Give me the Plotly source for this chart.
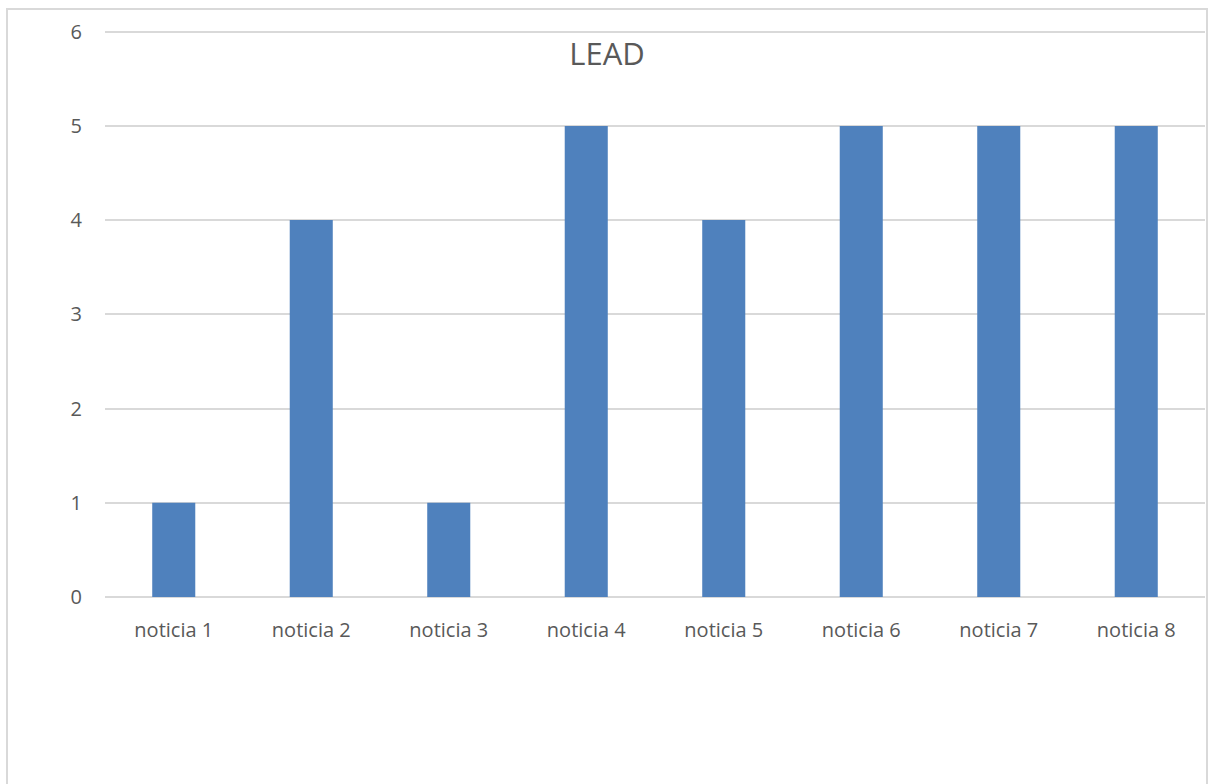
import plotly.graph_objects as go

categories = ['noticia 1', 'noticia 2', 'noticia 3', 'noticia 4',
              'noticia 5', 'noticia 6', 'noticia 7', 'noticia 8']
values = [1, 4, 1, 5, 4, 5, 5, 5]
y_ticks = [0, 1, 2, 3, 4, 5, 6]

W, H = 1208, 784
ml, mr, mt, mb = 105, 3, 26, 187
pw, ph = W - ml - mr, H - mt - mb

def px_x(x):
    return (x - ml) / pw

def px_y(y):
    return (H - mb - y) / ph

fig = go.Figure()
fig.add_trace(go.Bar(
    x=categories, y=values,
    marker=dict(color='#4F81BD', line=dict(width=0)),
    showlegend=False
))

# chart-area border
fig.add_shape(type='rect', xref='paper', yref='paper',
              x0=px_x(7), x1=px_x(1207), y0=px_y(790), y1=px_y(9),
              line=dict(color='#D9D9D9', width=2), layer='below')

fig.update_layout(
    width=W, height=H,
    margin=dict(l=ml, r=mr, t=mt, b=mb),
    paper_bgcolor='white', plot_bgcolor='white',
    bargap=0.687,
    font=dict(family='Open Sans', size=20, color='#595959'),
    title=dict(text='LEAD', x=607 / W, xanchor='center',
               y=1 - 54 / H, yanchor='middle',
               font=dict(size=31, color='#595959')),
    xaxis=dict(showgrid=False, showline=False, ticks='',
               ticklabelstandoff=19, tickfont=dict(size=20)),
    yaxis=dict(range=[0, 6.06], tickvals=y_ticks, showgrid=True,
               gridcolor='#D9D9D9', gridwidth=1.5, zeroline=True,
               zerolinecolor='#D9D9D9', zerolinewidth=1.5,
               ticks='', ticklabelstandoff=22, tickfont=dict(size=20)),
)

fig.write_html("out.html", config={'displayModeBar': False},
               post_script="document.body.style.margin='0';")
